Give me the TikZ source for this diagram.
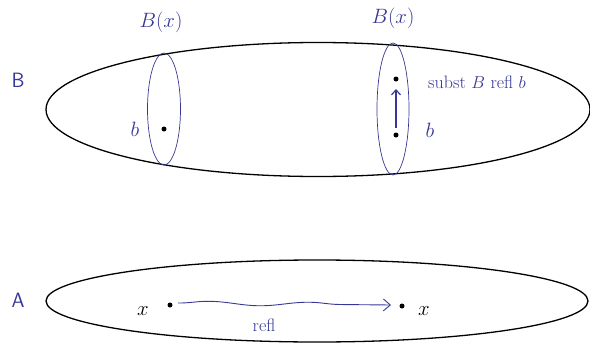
\documentclass[tikz,border=0pt]{standalone}
\usetikzlibrary{decorations.pathmorphing,arrows.meta}
\definecolor{pen}{RGB}{55,55,150}
\begin{document}
\begin{tikzpicture}[x=1pt,y=-1pt,
  big/.style={draw=black,line width=1.3pt},
  fib/.style={draw=pen,line width=0.7pt},
  lbl/.style={text=pen,font=\fontsize{22}{26}\selectfont},
  blk/.style={text=black,font=\fontsize{22}{26}\selectfont},
  small/.style={text=pen,font=\fontsize{18}{22}\selectfont},
  pt/.style={circle,fill=black,inner sep=0pt,minimum size=5pt}]
\useasboundingbox (0,0) rectangle (590,343);
\draw[big] (318,109.5) ellipse [x radius=272, y radius=67];
\draw[big] (317,301) ellipse [x radius=271, y radius=41];
\draw[fib] (164,109) ellipse [x radius=16.5, y radius=56];
\draw[fib] (393,109) ellipse [x radius=16, y radius=66];
\node[lbl] (LB) at (18,80) {$\mathsf{B}$};
\node[lbl] (LA) at (18,300) {$\mathsf{A}$};
\node[lbl] (Bx1) at (161,22) {$B(x)$};
\node[lbl] (Bx2) at (393,18) {$B(x)$};
\node[pt] (b1) at (164,129) {};
\node[lbl] (b1l) at (135,129) {$b$};
\node[pt] (b2) at (396,135) {};
\node[pt] (b3) at (396,79) {};
\node[lbl] (b2l) at (430,130) {$b$};
\node[small] (st) at (477,82) {subst $B$ refl $b$};
\coordinate (atip) at (396,89);
\draw[pen,line width=1.2pt,-{Straight Barb[length=5pt,width=9pt]}] ([yshift=7pt]b2.center) -- (atip);
\node[pt] (x1) at (170,305) {};
\node[blk] (x1l) at (143,311) {$x$};
\node[pt] (x2) at (402,306) {};
\node[blk] (x2l) at (424,311) {$x$};
\draw[pen,line width=0.9pt,-{Straight Barb[length=7pt,width=12pt]},
  decorate,decoration={snake,amplitude=2pt,segment length=100pt,post length=8pt}]
  ([xshift=8pt,yshift=2pt]x1.center) -- ([xshift=-11pt,yshift=1pt]x2.center);
\node[small] (refl) at (264,325) {refl};
\end{tikzpicture}
\end{document}
